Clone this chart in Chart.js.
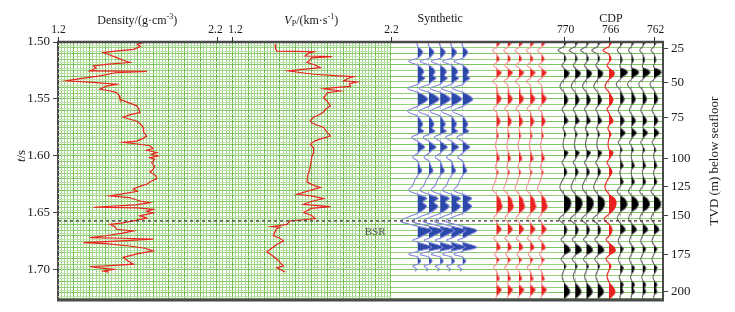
<!DOCTYPE html>
<html>
<head>
<meta charset="utf-8">
<script src="https://cdn.jsdelivr.net/npm/chart.js@4.4.1/dist/chart.umd.min.js"></script>
<style>
  html, body { margin: 0; padding: 0; background: #fff; }
</style>
</head>
<body>
<canvas id="myChart" width="735" height="312"></canvas>
<script>
// time axis (two-way time, s)
const tMin = 1.5, tMax = 1.7264;
const timeTicks = [1.50, 1.55, 1.60, 1.65, 1.70];
// right axis: depth below seafloor and its two-way time
const tvdDepths = [25, 50, 75, 100, 125, 150, 175, 200];
const tvdTimes = [1.5055, 1.5357, 1.5663, 1.6023, 1.6268, 1.6526, 1.6865, 1.7193];
const bsrTime = 1.657;

// density log (g/cm3)
const denTime = [1.5005, 1.5020, 1.5040, 1.5064, 1.5080, 1.5093, 1.5110, 1.5137, 1.5160, 1.5180, 1.5195, 1.5210, 1.5230, 1.5254, 1.5256, 1.5258, 1.5270, 1.5298, 1.5320, 1.5340, 1.5355, 1.5370, 1.5390, 1.5415, 1.5430, 1.5444, 1.5470, 1.5503, 1.5530, 1.5560, 1.5590, 1.5620, 1.5640, 1.5660, 1.5680, 1.5695, 1.5720, 1.5750, 1.5790, 1.5825, 1.5850, 1.5870, 1.5880, 1.5895, 1.5910, 1.5935, 1.5950, 1.5970, 1.5985, 1.6000, 1.6015, 1.6030, 1.6060, 1.6090, 1.6117, 1.6140, 1.6170, 1.6200, 1.6220, 1.6248, 1.6265, 1.6290, 1.6310, 1.6335, 1.6350, 1.6365, 1.6395, 1.6410, 1.6430, 1.6450, 1.6455, 1.6468, 1.6485, 1.6500, 1.6526, 1.6545, 1.6570, 1.6590, 1.6600, 1.6620, 1.6643, 1.6658, 1.6680, 1.6700, 1.6716, 1.6722, 1.6730, 1.6745, 1.6760, 1.6770, 1.6790, 1.6810, 1.6833, 1.6860, 1.6890, 1.6920, 1.6950, 1.6965, 1.6970, 1.6980, 1.6995, 1.7010, 1.7020];
const denValue = [1.738, 1.700, 1.720, 1.675, 1.560, 1.486, 1.520, 1.570, 1.610, 1.654, 1.520, 1.423, 1.440, 1.402, 1.600, 1.760, 1.560, 1.465, 1.350, 1.255, 1.420, 1.570, 1.500, 1.465, 1.530, 1.570, 1.585, 1.591, 1.640, 1.697, 1.710, 1.717, 1.650, 1.612, 1.660, 1.697, 1.720, 1.738, 1.740, 1.760, 1.730, 1.697, 1.612, 1.700, 1.780, 1.800, 1.760, 1.823, 1.790, 1.830, 1.780, 1.810, 1.790, 1.810, 1.801, 1.780, 1.815, 1.823, 1.790, 1.760, 1.720, 1.675, 1.700, 1.600, 1.528, 1.650, 1.717, 1.780, 1.690, 1.423, 1.700, 1.801, 1.760, 1.800, 1.717, 1.760, 1.675, 1.600, 1.528, 1.560, 1.570, 1.675, 1.600, 1.500, 1.402, 1.600, 1.801, 1.600, 1.360, 1.500, 1.650, 1.750, 1.801, 1.700, 1.612, 1.640, 1.675, 1.500, 1.402, 1.450, 1.549, 1.486, 1.520];

// P-wave velocity log (km/s)
const vpTime = [1.5020, 1.5060, 1.5080, 1.5082, 1.5085, 1.5100, 1.5123, 1.5125, 1.5128, 1.5140, 1.5160, 1.5180, 1.5200, 1.5225, 1.5240, 1.5254, 1.5270, 1.5283, 1.5295, 1.5304, 1.5320, 1.5340, 1.5350, 1.5365, 1.5390, 1.5400, 1.5410, 1.5430, 1.5445, 1.5470, 1.5488, 1.5520, 1.5560, 1.5590, 1.5610, 1.5634, 1.5660, 1.5690, 1.5707, 1.5730, 1.5750, 1.5790, 1.5825, 1.5850, 1.5870, 1.5897, 1.5930, 1.5970, 1.6000, 1.6040, 1.6080, 1.6120, 1.6160, 1.6200, 1.6230, 1.6260, 1.6277, 1.6300, 1.6336, 1.6350, 1.6374, 1.6400, 1.6424, 1.6435, 1.6444, 1.6460, 1.6497, 1.6520, 1.6550, 1.6560, 1.6570, 1.6600, 1.6610, 1.6620, 1.6625, 1.6640, 1.6670, 1.6700, 1.6720, 1.6745, 1.6780, 1.6810, 1.6842, 1.6870, 1.6906, 1.6930, 1.6965, 1.6980, 1.7000, 1.7018];
const vpValue = [1.472, 1.475, 1.483, 1.600, 1.715, 1.680, 1.662, 1.760, 1.831, 1.700, 1.690, 1.673, 1.720, 1.757, 1.650, 1.556, 1.640, 1.715, 1.850, 1.968, 1.930, 1.905, 1.990, 1.940, 1.947, 1.850, 1.778, 1.884, 1.800, 1.790, 1.778, 1.800, 1.821, 1.790, 1.780, 1.757, 1.715, 1.694, 1.700, 1.740, 1.778, 1.800, 1.821, 1.760, 1.720, 1.694, 1.715, 1.715, 1.705, 1.700, 1.695, 1.690, 1.680, 1.675, 1.673, 1.720, 1.757, 1.700, 1.610, 1.700, 1.778, 1.700, 1.652, 1.740, 1.821, 1.700, 1.652, 1.700, 1.726, 1.650, 1.567, 1.546, 1.500, 1.451, 1.504, 1.480, 1.470, 1.461, 1.500, 1.525, 1.480, 1.450, 1.420, 1.450, 1.483, 1.500, 1.525, 1.483, 1.510, 1.536];

// synthetic seismogram (relative amplitude)
const synTime = [1.5003, 1.5038, 1.5064, 1.5090, 1.5117, 1.5143, 1.5169, 1.5204, 1.5239, 1.5266, 1.5292, 1.5318, 1.5345, 1.5371, 1.5406, 1.5442, 1.5468, 1.5503, 1.5538, 1.5564, 1.5607, 1.5652, 1.5687, 1.5722, 1.5757, 1.5783, 1.5810, 1.5836, 1.5871, 1.5897, 1.5924, 1.5950, 1.5976, 1.6011, 1.6046, 1.6090, 1.6134, 1.6169, 1.6213, 1.6257, 1.6301, 1.6336, 1.6371, 1.6406, 1.6441, 1.6476, 1.6503, 1.6538, 1.6573, 1.6599, 1.6617, 1.6652, 1.6696, 1.6722, 1.6739, 1.6757, 1.6801, 1.6836, 1.6862, 1.6888, 1.6924, 1.6950, 1.6967, 1.6994, 1.7011];
const synAmp = [-1, 0, 3, 5, 3, 0, -9, 0, 5, 6, 4, 7, 3, 0, -10, 0, 6, 10, 5, 0, -10, 0, 3, 5, 3, 6, 0, -6, 0, 4, 7, 3, 0, -5, 0, 2, 4, 0, -3, -5, -9, 0, 9, 5, 9, 5, 0, -10, -17, -8, 0, 14, 6, 0, -5, 0, 14, 0, -9, 0, 3, 0, -5, -1, -3];

// seismic trace at the well (relative amplitude)
const wellTime = [1.5000, 1.5020, 1.5046, 1.5073, 1.5108, 1.5152, 1.5178, 1.5204, 1.5231, 1.5266, 1.5301, 1.5318, 1.5345, 1.5380, 1.5459, 1.5494, 1.5529, 1.5555, 1.5582, 1.5617, 1.5661, 1.5696, 1.5731, 1.5757, 1.5792, 1.5827, 1.5862, 1.5906, 1.5950, 1.5994, 1.6029, 1.6064, 1.6108, 1.6143, 1.6178, 1.6239, 1.6292, 1.6336, 1.6380, 1.6415, 1.6450, 1.6485, 1.6511, 1.6547, 1.6582, 1.6617, 1.6643, 1.6678, 1.6696, 1.6722, 1.6748, 1.6783, 1.6810, 1.6836, 1.6862, 1.6888, 1.6906, 1.6932, 1.6950, 1.6976, 1.7011, 1.7055, 1.7082, 1.7108, 1.7134, 1.7169, 1.7204, 1.7231, 1.7257];
const wellAmp = [4, 3, 0, -4, 0, 3, 0, -3, 0, 5, 2, 0, -4, 0, 2, 5, 3, 0, -3, 0, 2, 4, 2, 0, 1, 2, 0, -1, 0, 2, 3, 0, -1, 2, 0, -2, -4, 0, 4, 5, 6, 3, 0, -3, 0, 3, 5, 2, 0, -3, 0, 3, 4, 0, -2, 0, 3, 1, 0, -3, 0, 2, 3, 0, 1, 5, 3, 0, -1];

// CDP gather, near-well traces (770-766) and far traces (765-762)
const cdpATime = [1.5000, 1.5011, 1.5038, 1.5073, 1.5108, 1.5152, 1.5178, 1.5204, 1.5231, 1.5266, 1.5301, 1.5327, 1.5389, 1.5442, 1.5485, 1.5511, 1.5546, 1.5564, 1.5590, 1.5625, 1.5661, 1.5696, 1.5731, 1.5766, 1.5810, 1.5845, 1.5897, 1.5941, 1.5968, 1.6003, 1.6029, 1.6055, 1.6090, 1.6143, 1.6187, 1.6239, 1.6283, 1.6336, 1.6380, 1.6424, 1.6467, 1.6511, 1.6555, 1.6599, 1.6643, 1.6678, 1.6704, 1.6731, 1.6766, 1.6801, 1.6836, 1.6871, 1.6906, 1.6941, 1.6967, 1.7003, 1.7055, 1.7108, 1.7152, 1.7196, 1.7231, 1.7257];
const cdpAAmp = [4, 2, 0, -6, 0, 2, 0, -2, 0, 5, 4, 0, -4, 0, 3, 4, 2, 0, -2, 0, 2, 4, 0, -1, 2, 0, -1, 0, 4, 2, 0, -2, 0, 3, 0, -3, -4, 0, 6, 7, 5, 0, -5, 0, 3, 2, 0, -3, 0, 5, 6, 0, -3, 0, 2, 0, -2, 0, 4, 6, 3, 0];
const cdpBTime = [1.5000, 1.5011, 1.5038, 1.5073, 1.5108, 1.5161, 1.5196, 1.5222, 1.5248, 1.5275, 1.5310, 1.5327, 1.5371, 1.5424, 1.5476, 1.5503, 1.5538, 1.5555, 1.5599, 1.5634, 1.5669, 1.5696, 1.5722, 1.5748, 1.5775, 1.5801, 1.5827, 1.5854, 1.5880, 1.5915, 1.5950, 1.5976, 1.6020, 1.6064, 1.6090, 1.6125, 1.6169, 1.6204, 1.6231, 1.6266, 1.6310, 1.6345, 1.6380, 1.6424, 1.6459, 1.6494, 1.6547, 1.6590, 1.6626, 1.6652, 1.6678, 1.6696, 1.6748, 1.6783, 1.6810, 1.6836, 1.6862, 1.6906, 1.6950, 1.6976, 1.7011, 1.7038, 1.7064, 1.7090, 1.7125, 1.7160, 1.7196, 1.7222, 1.7257];
const cdpBAmp = [3, 2, 0, -3, 0, 2, 0, 0, 6, 7, 2, 0, -4, 0, 3, 4, 2, 0, -2, 0, 3, 4, 2, 0, 3, 5, 2, 0, -2, 0, 2, 0, 0, 2, 3, 0, 0, 2, 3, 0, -3, 0, 5, 7, 5, 0, -3, 0, 4, 5, 2, 0, -2, 0, 3, 2, 0, -2, 0, 3, 2, 0, -1, 0, 3, 2, 3, 0, 0];

// trace positions (CDP numbers)
const synCdps = [783, 782, 781, 780, 779];
const wellCdps = [776, 775, 774, 773, 772];
const cdpNumbers = [770, 769, 768, 767, 766, 765, 764, 763, 762];
const cdpGroup = ['A', 'A', 'A', 'A', 'A', 'B', 'B', 'B', 'B'];
const cdpTickLabels = [770, 766, 762];
const wellCdp = 766;

const wiggleScale = 1 / 11.25;
const RED = '#e8231f';

function pts(times, values) {
    return times.map((t, i) => ({ x: values[i], y: t }));
}

// one wiggle trace = a filled positive lobe dataset + the wiggle line
function wiggle(cdp, times, amps, lineColor, fillColor) {
    const lineData = times.map((t, i) => ({ x: cdp - amps[i] * wiggleScale, y: t }));
    const fillData = times.map((t, i) => ({ x: cdp - Math.max(amps[i], 0) * wiggleScale, y: t }));
    const common = { xAxisID: 'xCdp', yAxisID: 't', pointRadius: 0, tension: 0.4 };
    return [
        Object.assign({ data: fillData, borderWidth: 0, borderColor: 'transparent', backgroundColor: fillColor, fill: { value: cdp }, order: 4 }, common),
        Object.assign({ data: lineData, borderWidth: 1.1, borderColor: lineColor, fill: false, order: 3 }, common)
    ];
}

const datasets = [];
datasets.push({ data: pts(denTime, denValue), xAxisID: 'xDen', yAxisID: 't', borderColor: RED, borderWidth: 1.2, pointRadius: 0, fill: false, order: 2 });
datasets.push({ data: pts(vpTime, vpValue), xAxisID: 'xVp', yAxisID: 't', borderColor: RED, borderWidth: 1.2, pointRadius: 0, fill: false, order: 2 });
synCdps.forEach(c => datasets.push(...wiggle(c, synTime, synAmp, '#8585dc', '#2a48a8')));
wellCdps.forEach(c => datasets.push(...wiggle(c, wellTime, wellAmp, '#f29595', RED)));
cdpNumbers.forEach((c, i) => {
    const tm = cdpGroup[i] === 'A' ? cdpATime : cdpBTime;
    const am = cdpGroup[i] === 'A' ? cdpAAmp : cdpBAmp;
    const red = c === wellCdp;
    datasets.push(...wiggle(c, tm, am, red ? RED : '#6a6a6a', red ? RED : '#000'));
});
// BSR dashed line
datasets.push({ data: [{ x: 1.2, y: bsrTime }, { x: 5.017, y: bsrTime }], xAxisID: 'xDen', yAxisID: 't', borderColor: '#333', borderWidth: 1.3, borderDash: [3, 3], pointRadius: 0, fill: false, order: 0 });

// grid positions (graph paper)
const hGrid = [];
for (let i = 0; 1.5 + i * 0.005 <= tMax; i++) hGrid.push(1.5 + i * 0.005);
const vGrid = [];
for (let i = 0; i <= 105; i++) vGrid.push(1.2 + i * 0.02);

const SERIF = '"Liberation Serif", "Times New Roman", serif';

function drawRich(ctx, parts, cx, baseline) {
    let total = 0;
    parts.forEach(p => { ctx.font = p.font; total += ctx.measureText(p.text).width; });
    let x = cx - total / 2;
    ctx.textAlign = 'left';
    parts.forEach(p => {
        ctx.font = p.font;
        ctx.fillText(p.text, x, baseline + (p.dy || 0));
        x += ctx.measureText(p.text).width;
    });
}

// extra fine rows of the graph paper, only under the two log panels
const paperPlugin = {
    id: 'paper',
    beforeDatasetsDraw(chart) {
        const { ctx, chartArea: a, scales } = chart;
        const xEnd = scales.gridX.getPixelForValue(vGrid[vGrid.length - 1]);
        ctx.save();
        ctx.strokeStyle = '#bde2aa';
        ctx.lineWidth = 1;
        ctx.beginPath();
        for (let t = 1.5025; t < tMax; t += 0.005) {
            const y = Math.round(scales.t.getPixelForValue(t)) + 0.5;
            ctx.moveTo(a.left, y); ctx.lineTo(xEnd, y);
        }
        ctx.stroke();
        ctx.restore();
    }
};

const decorPlugin = {
    id: 'decor',
    afterDraw(chart) {
        const { ctx, chartArea: a, scales } = chart;
        ctx.save();
        // frame
        ctx.strokeStyle = '#4a4a4a';
        ctx.lineWidth = 2.5;
        ctx.beginPath(); ctx.moveTo(a.left - 1, a.top); ctx.lineTo(a.right + 1, a.top); ctx.stroke();
        ctx.lineWidth = 3;
        ctx.beginPath(); ctx.moveTo(a.left - 1, a.bottom); ctx.lineTo(a.right + 1, a.bottom); ctx.stroke();

        // top ticks
        ctx.fillStyle = '#1a1a1a';
        ctx.strokeStyle = '#333';
        ctx.lineWidth = 1;
        ctx.textAlign = 'center';
        ctx.textBaseline = 'alphabetic';
        ctx.font = '11.5px ' + SERIF;
        const topTick = (scale, v, text, dx) => {
            const x = Math.round(scale.getPixelForValue(v)) + 0.5;
            ctx.beginPath(); ctx.moveTo(x, a.top - 5); ctx.lineTo(x, a.top); ctx.stroke();
            ctx.fillText(text, x + dx, a.top - 9);
        };
        topTick(scales.xDen, 1.2, '1.2', 0);
        topTick(scales.xDen, 2.2, '2.2', -2);
        topTick(scales.xVp, 1.2, '1.2', 3);
        topTick(scales.xVp, 2.2, '2.2', 0);
        cdpTickLabels.forEach(v => topTick(scales.xCdp, v, String(v), 1));

        // panel titles
        const f = '12px ' + SERIF, fs = '8px ' + SERIF, fi = 'italic 12px ' + SERIF;
        const denC = (scales.xDen.getPixelForValue(1.2) + scales.xDen.getPixelForValue(2.2)) / 2;
        drawRich(ctx, [{ text: 'Density/(g\u00b7cm', font: f }, { text: '-3', font: fs, dy: -5 }, { text: ')', font: f }], denC, 24);
        const vpC = (scales.xVp.getPixelForValue(1.2) + scales.xVp.getPixelForValue(2.2)) / 2;
        drawRich(ctx, [{ text: 'V', font: fi }, { text: 'P', font: fs, dy: 2 }, { text: '/(km\u00b7s', font: f }, { text: '-1', font: fs, dy: -5 }, { text: ')', font: f }], vpC, 24);
        const synC = scales.xCdp.getPixelForValue((synCdps[0] + synCdps[synCdps.length - 1]) / 2);
        drawRich(ctx, [{ text: 'Synthetic', font: f }], synC, 22);
        const cdpC = scales.xCdp.getPixelForValue((cdpNumbers[0] + cdpNumbers[cdpNumbers.length - 1]) / 2);
        drawRich(ctx, [{ text: 'CDP', font: f }], cdpC + 2, 22);

        // BSR label
        ctx.fillStyle = '#555';
        ctx.font = '11px ' + SERIF;
        ctx.textAlign = 'right';
        ctx.fillText('BSR', scales.xVp.getPixelForValue(2.2) - 5, scales.t.getPixelForValue(bsrTime) + 14);

        // axis titles
        ctx.fillStyle = '#1a1a1a';
        ctx.save();
        ctx.translate(a.right + 52, (a.top + a.bottom) / 2 - 10);
        ctx.rotate(-Math.PI / 2);
        ctx.textAlign = 'center';
        ctx.textBaseline = 'middle';
        ctx.font = '13px ' + SERIF;
        ctx.fillText('TVD (m) below seafloor', 0, 0);
        ctx.restore();

        ctx.save();
        ctx.translate(22, scales.t.getPixelForValue(1.6));
        ctx.rotate(-Math.PI / 2);
        ctx.textBaseline = 'middle';
        drawRich(ctx, [{ text: 't', font: 'italic 13px ' + SERIF }, { text: '/s', font: '13px ' + SERIF }], 0, 0);
        ctx.restore();
        ctx.restore();
    }
};

const config = {
    type: 'line',
    data: { datasets: datasets },
    options: {
        indexAxis: 'y',
        responsive: false,
        animation: false,
        devicePixelRatio: 1,
        layout: { padding: { top: 42, bottom: 12, left: 0, right: 0 } },
        plugins: { legend: { display: false }, tooltip: { enabled: false } },
        scales: {
            t: {
                type: 'linear', axis: 'y', position: 'left', min: tMin, max: tMax, reverse: true,
                afterBuildTicks: s => { s.ticks = timeTicks.map(v => ({ value: v })); },
                afterFit: s => { s.width = 58; },
                ticks: { callback: v => v.toFixed(2), color: '#1a1a1a', font: { family: SERIF, size: 13 }, padding: 3 },
                grid: { drawOnChartArea: false, tickLength: 5, color: '#444' },
                border: { color: '#4a4a4a', width: 2 }
            },
            gridY: {
                type: 'linear', axis: 'y', position: 'left', min: tMin, max: tMax, reverse: true,
                afterBuildTicks: s => { s.ticks = hGrid.map(v => ({ value: v })); },
                afterFit: s => { s.width = 0; },
                ticks: { display: false },
                grid: { drawTicks: false, lineWidth: 1, color: c => (c.index % 2 === 0 ? '#7cc45c' : '#93d078') },
                border: { display: false }
            },
            tvd: {
                type: 'linear', axis: 'y', position: 'right', min: tMin, max: tMax, reverse: true,
                afterBuildTicks: s => { s.ticks = tvdTimes.map(v => ({ value: v })); },
                afterFit: s => { s.width = 72; },
                ticks: { callback: (v, i) => String(tvdDepths[i]), color: '#1a1a1a', font: { family: SERIF, size: 13 }, padding: 3, autoSkip: false },
                grid: { drawOnChartArea: false, tickLength: 5, color: '#444' },
                border: { color: '#4a4a4a', width: 2 }
            },
            gridX: {
                type: 'linear', axis: 'x', position: 'bottom', min: 1.2, max: 5.017,
                afterBuildTicks: s => { s.ticks = vGrid.map(v => ({ value: v })); },
                afterFit: s => { s.height = 0; },
                ticks: { display: false },
                grid: { drawTicks: false, lineWidth: 1, color: c => (c.index % 5 === 0 ? '#6cba48' : '#a2d68c') },
                border: { display: false }
            },
            xDen: { type: 'linear', axis: 'x', position: 'top', display: false, min: 1.2, max: 5.017 },
            xVp: { type: 'linear', axis: 'x', position: 'top', display: false, min: 0.1022, max: 3.9192 },
            xCdp: { type: 'linear', axis: 'x', position: 'top', display: false, min: 761.2, max: 814.98, reverse: true }
        }
    },
    plugins: [paperPlugin, decorPlugin]
};

new Chart(document.getElementById('myChart').getContext('2d'), config);
</script>
</body>
</html>
